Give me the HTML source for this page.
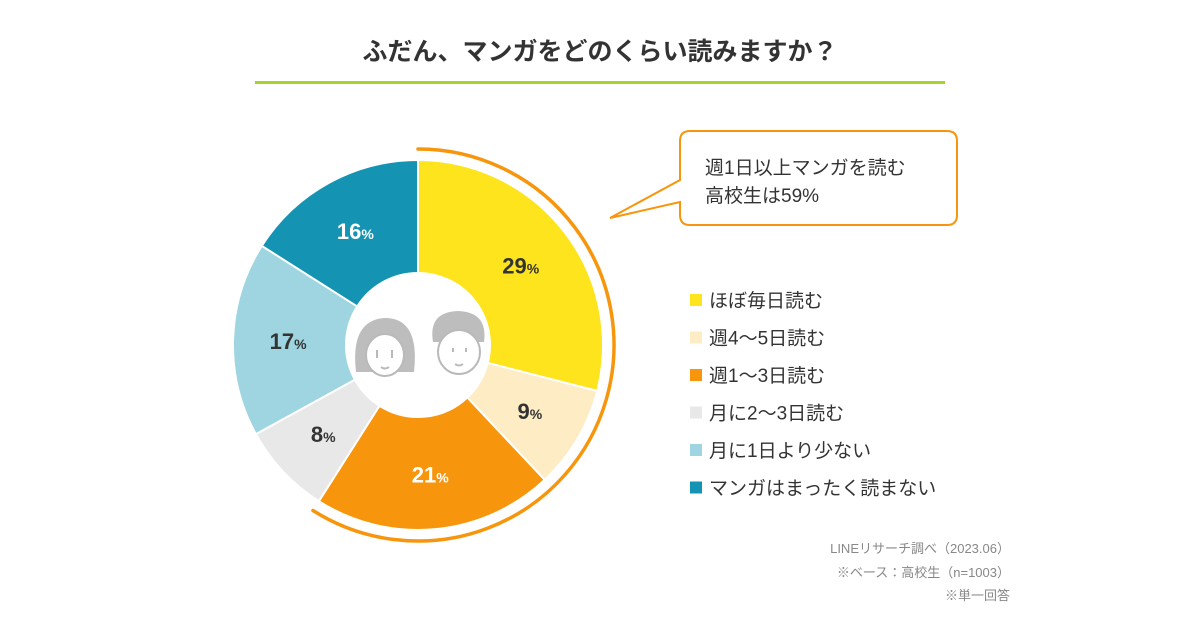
<!DOCTYPE html>
<html><head><meta charset="utf-8"><style>
body{margin:0;background:#fff;font-family:"Liberation Sans","Noto Sans CJK JP",sans-serif;}
svg text{font-family:"Liberation Sans","Noto Sans CJK JP",sans-serif;}
</style></head><body>
<svg id="c" width="1200" height="630" xmlns="http://www.w3.org/2000/svg">
<text x="600" y="60" text-anchor="middle" font-size="25" font-weight="bold" fill="#333">ふだん、マンガをどのくらい読みますか？</text>
<rect x="255" y="81" width="690" height="3" fill="#a8d42a"/>
<g id="slices"></g>
<g fill="none" stroke="#b9b9b9" stroke-width="2">
<path d="M356 372 Q350 320 385 318 Q420 318 414 372 Z" fill="#bdbdbd" stroke="none"/>
<ellipse cx="385" cy="355" rx="19" ry="21" fill="#fff"/>
<path d="M433 342 Q428 312 458 311 Q488 312 484 342 Z" fill="#bdbdbd" stroke="none"/>
<ellipse cx="459" cy="352" rx="21" ry="22" fill="#fff"/>
<path d="M377 350 v8 M392 350 v8 M453 348 v4 M466 348 v4 M381 367 q4 3 8 0 M455 364 q4 3 8 0"/>
</g>
<path d="M690 131 H947 Q957 131 957 141 V215 Q957 225 947 225 H690 Q680 225 680 215 V202 L610 218 L680 180 V141 Q680 131 690 131 Z" fill="#fff" stroke="#f7960d" stroke-width="2"/>
<text x="705" y="174" font-size="19" fill="#333">週1日以上マンガを読む</text>
<text x="705" y="202" font-size="19" fill="#333">高校生は59%</text>
<g id="legend"></g>
<g font-size="13" fill="#888" text-anchor="end">
<text x="1010" y="553">LINEリサーチ調べ（2023.06）</text>
<text x="1010" y="577">※ベース：高校生（n=1003）</text>
<text x="1010" y="600">※単一回答</text>
</g>
</svg>
<script>
const categories=["ほぼ毎日読む","週4〜5日読む","週1〜3日読む","月に2〜3日読む","月に1日より少ない","マンガはまったく読まない"];
const values=[29,9,21,8,17,16];
const colors=["#fde41c","#fdecc4","#f7960d","#e8e8e8","#9ed5e1","#1493b2"];
const NS="http://www.w3.org/2000/svg";
const cx=418,cy=345,R=185,r=72;
const total=values.reduce((a,b)=>a+b,0);
const ang=v=>v/total*2*Math.PI;
const pt=(a,rad)=>[cx+rad*Math.sin(a),cy-rad*Math.cos(a)];
const g=document.getElementById('slices');
let a0=0;
values.forEach((v,i)=>{
 const a1=a0+ang(v);const lg=(a1-a0)>Math.PI?1:0;
 const [x1,y1]=pt(a0,R),[x2,y2]=pt(a1,R),[x3,y3]=pt(a1,r),[x4,y4]=pt(a0,r);
 const p=document.createElementNS(NS,'path');
 p.setAttribute('d',`M${x1} ${y1}A${R} ${R} 0 ${lg} 1 ${x2} ${y2}L${x3} ${y3}A${r} ${r} 0 ${lg} 0 ${x4} ${y4}Z`);
 p.setAttribute('fill',colors[i]);p.setAttribute('stroke','#fff');p.setAttribute('stroke-width','2');
 
 
 g.appendChild(p);
 const m=(a0+a1)/2;const [tx,ty]=pt(m,130);
 const t=document.createElementNS(NS,'text');
 t.setAttribute('x',tx);t.setAttribute('y',ty+8);t.setAttribute('text-anchor','middle');
 t.setAttribute('font-size','22');t.setAttribute('font-weight','bold');
 t.setAttribute('fill',i==2||i==5?'#fff':'#333');
 t.innerHTML=v+'<tspan font-size="14">%</tspan>';
 
 
 g.appendChild(t);
 a0=a1;
});
const wk=values[0]+values[1]+values[2];
const aw=ang(wk);const Ro=196;
const [ex,ey]=pt(aw,Ro);
const arc=document.createElementNS(NS,'path');
arc.setAttribute('d',`M${cx} ${cy-Ro}A${Ro} ${Ro} 0 ${aw>Math.PI?1:0} 1 ${ex} ${ey}`);
arc.setAttribute('fill','none');arc.setAttribute('stroke','#f7960d');arc.setAttribute('stroke-width','3.5');arc.setAttribute('stroke-linecap','round');


g.appendChild(arc);
const L=document.getElementById('legend');
categories.forEach((c,i)=>{
 const y=300+i*37.5;
 const s=document.createElementNS(NS,'rect');
 s.setAttribute('x',690);s.setAttribute('y',y-6);s.setAttribute('width',12);s.setAttribute('height',12);s.setAttribute('fill',colors[i]);
 
 
 L.appendChild(s);
 const t=document.createElementNS(NS,'text');
 t.setAttribute('x',709);t.setAttribute('y',y+7);t.setAttribute('font-size','19');t.setAttribute('fill','#333');
 t.textContent=c;
 
 
 L.appendChild(t);
});
</script>
</body></html>
